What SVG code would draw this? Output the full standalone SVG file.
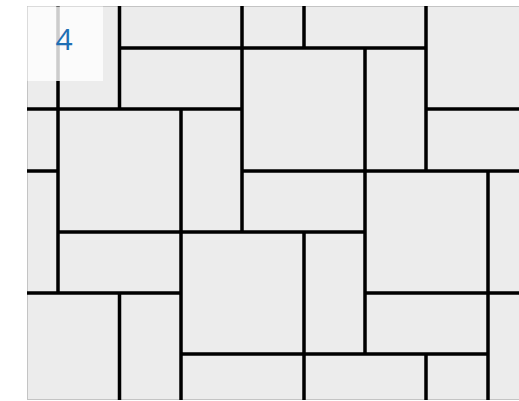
<svg xmlns="http://www.w3.org/2000/svg" width="519" height="401" viewBox="0 0 519 401">
<style>
.ln{stroke:#000;stroke-width:3.5;fill:none;stroke-linecap:butt}
.lbl{font-family:"Open Sans","Liberation Sans",sans-serif;font-size:30px;fill:#1f6fb4;text-anchor:middle}
</style>
<rect width="519" height="401" fill="#fff"/>
<g id="tiling">
<rect x="27.5" y="6.5" width="495" height="393" fill="#ececec" stroke="#c4c4c4" stroke-width="1"/>
</g>
<g id="connectors">
<path class="ln" d="M119.5 6V110.7 M242 6V233.7 M304 6V48 M426 6V172.7 M117.8 48H427.7 M27 109H243.7 M424.3 109H519 M58 6V293 M181 107.3V400 M27 171H59.7 M240.3 171H519 M365 46.3V355.7 M488 169.3V400 M56.3 232H366.7 M27 293H182.7 M363.3 293H519 M119.5 291.3V400 M304 230.3V400 M179.3 354H489.7 M426 352.3V400"/>
</g>
<g id="label">
<rect x="27.5" y="6.5" width="75.5" height="74.5" fill="#fff" fill-opacity="0.8"/>
<text class="lbl" x="64" y="50">4</text>
</g>
</svg>
